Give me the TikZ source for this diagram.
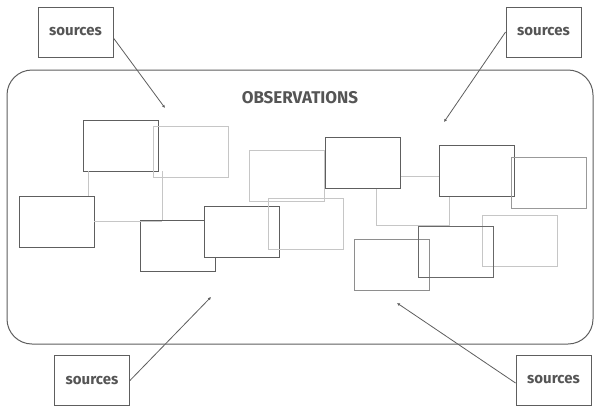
\documentclass[tikz,border=0pt]{standalone}
\usepackage{fontspec}
\setmainfont{Fira Sans}
\usepackage{xcolor}
\usepackage{tikz}
\usetikzlibrary{arrows.meta}
\usetikzlibrary{calc}

\definecolor{darkline}{HTML}{5E5E5E}
\definecolor{midline}{HTML}{8E8E8E}
\definecolor{lightline}{HTML}{C6C6C6}
\definecolor{txtgray}{HTML}{555555}

\tikzset{
  obsbox/.style={draw, inner sep=0pt, minimum width=75pt, minimum height=51pt, line width=0.95pt},
  srcbox/.style={draw=darkline, line width=0.9pt, inner sep=0pt, minimum width=75pt, minimum height=50pt,
    text=txtgray, font=\fontsize{15}{15}\selectfont\bfseries},
  link/.style={draw=lightline, line width=1pt},
  feed/.style={draw=darkline, line width=0.8pt, -{Latex[length=3pt,width=3pt]}}
}

\begin{document}
\begin{tikzpicture}[x=1pt, y=-1pt]
    \useasboundingbox (0,0) rectangle (594,405);

    % Cadre
    \node[draw=darkline, line width=1pt, rounded corners=25pt, minimum width=586pt, minimum height=274pt] (obs) at (300,207) {};
    \node[text=txtgray, font=\fontsize{17}{17}\selectfont\bfseries] (title) at (300,98) {OBSERVATIONS};

    % Observations (gauche)
    \node[obsbox, draw=darkline] (r1) at (120.5,145.5) {};
    \node[obsbox, draw=lightline] (r2) at (191,151.5) {};
    \node[obsbox, draw=darkline] (r3) at (56.5,221.5) {};
    \node[obsbox, draw=darkline] (r4) at (177.5,245.5) {};
    \node[obsbox, draw=darkline, fill=white] (r5) at (241.5,232) {};

    % Observations (milieu)
    \node[obsbox, draw=lightline] (r6) at (287,176) {};
    \node[obsbox, draw=lightline] (r8) at (306,224) {};
    \node[obsbox, draw=darkline] (r7) at (363,163) {};
    \node[obsbox, draw=midline] (r13) at (391.5,265) {};

    % Observations (droite)
    \node[obsbox, draw=darkline] (r9) at (476.5,171) {};
    \node[obsbox, draw=midline!80!lightline] (r10) at (548.5,183) {};
    \node[obsbox, draw=lightline] (r11) at (519.5,241) {};
    \node[obsbox, draw=darkline!80!midline] (r12) at (455.5,251.5) {};

    % Liens
    \draw[link] ([xshift=6pt]r1.south west) -- ([xshift=6pt]r1.south west |- r3.north);
    \draw[link] (r3.east) -- (r3.east -| r2.south west) -- ++(9,0);
    \draw[link] ([xshift=9pt]r2.south west) ++(0,-6) coordinate (k1) -- (k1 |- r4.north);
    \draw[link] ([yshift=-13pt]r7.east) -- ([yshift=-13pt]r7.east -| r9.west);
    \coordinate (k2) at ([xshift=11pt]r9.south west);
    \draw[link] ([xshift=13pt]r7.south) |- (k2 |- r12.north) -- (k2);

    % Sources
    \node[srcbox] (srcTL) at (75.5,32) {sources};
    \node[srcbox] (srcTR) at (543.5,32) {sources};
    \node[srcbox] (srcBL) at (92,380.5) {sources};
    \node[srcbox] (srcBR) at (553.5,380) {sources};

    \coordinate (tTL) at (165,108);
    \coordinate (tTR) at (444,122);
    \coordinate (tBL) at (211,297);
    \coordinate (tBR) at (397,303);

    \draw[feed] ([yshift=-6pt]srcTL.east) -- (tTL);
    \draw[feed] (srcTR.west) -- (tTR);
    \draw[feed] (srcBL.east) -- (tBL);
    \draw[feed] ([yshift=-3pt]srcBR.west) -- (tBR);
\end{tikzpicture}
\end{document}
